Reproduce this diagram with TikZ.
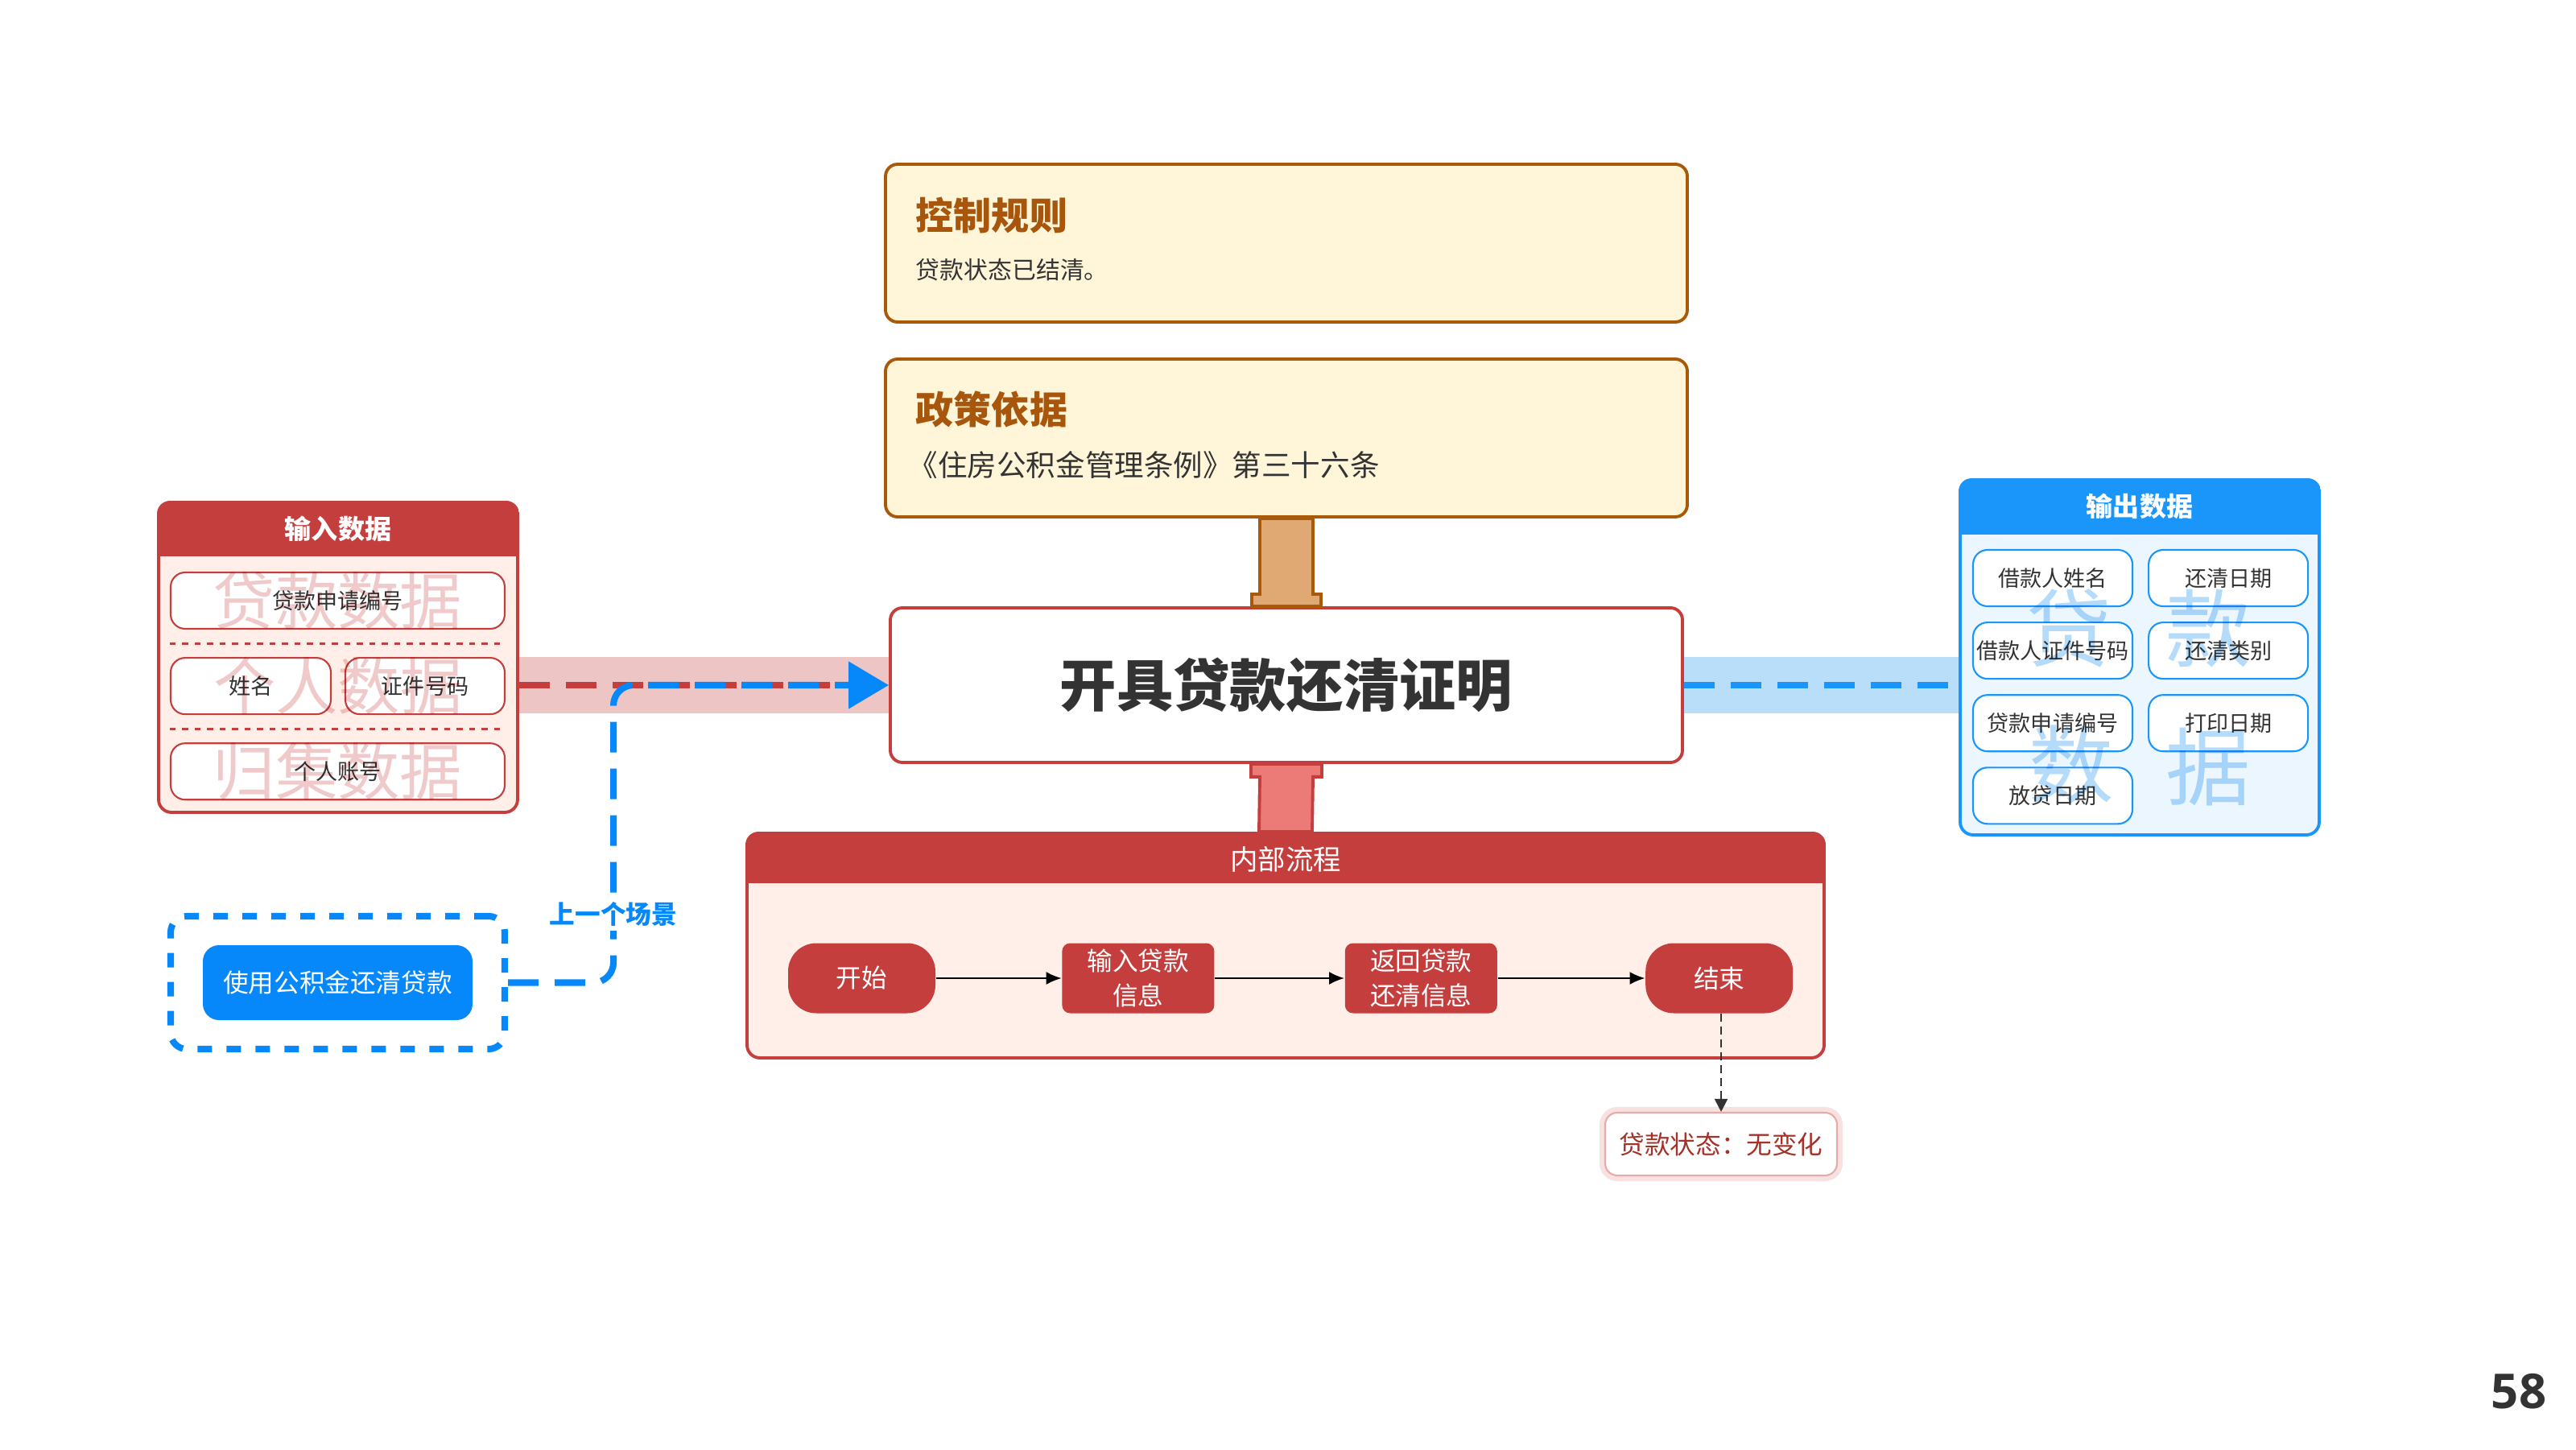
\documentclass[tikz,border=0pt]{standalone}
\usepackage{fontspec}
\setmainfont{Noto Sans CJK SC}
\newfontfamily\numfont{Open Sans}
\usetikzlibrary{calc,positioning,arrows.meta}

\definecolor{bordred}{HTML}{C43E3E}
\definecolor{peach}{HTML}{FFEFE8}
\definecolor{bandred}{HTML}{EDC5C5}
\definecolor{markred}{HTML}{F0CACA}
\definecolor{tanfill}{HTML}{E0A872}
\definecolor{tanline}{HTML}{A85A0A}
\definecolor{cream}{HTML}{FFF5D8}
\definecolor{titlebrown}{HTML}{A8560C}
\definecolor{stubred}{HTML}{EC7A77}
\definecolor{sceneblue}{HTML}{0788FA}
\definecolor{outblue}{HTML}{1A96FA}
\definecolor{bandblue}{HTML}{B8DEFA}
\definecolor{paleblue}{HTML}{EBF6FF}
\definecolor{markblue}{HTML}{B5DBFA}
\definecolor{textgray}{HTML}{333333}
\definecolor{notered}{HTML}{A33228}
\definecolor{glowred}{HTML}{E8AAAA}

\begin{document}
\begin{tikzpicture}[
  redframe/.style={draw=bordred, line width=1.1pt, fill=peach, rounded corners=1.6mm},
  redcell/.style={draw=bordred, line width=0.6pt, fill=white, rounded corners=1.8mm, minimum height=0.7cm, inner sep=0.5pt, text=textgray, font=\fontsize{7.7pt}{9pt}\selectfont},
  bluecell/.style={draw=outblue, line width=0.6pt, fill=white, rounded corners=1.8mm, minimum width=1.98cm, minimum height=0.7cm, inner sep=0.5pt, text=textgray, font=\fontsize{7.7pt}{9pt}\selectfont},
  rulebox/.style={draw=tanline, line width=1.1pt, fill=cream, rounded corners=1.5mm, minimum width=9.96cm, minimum height=1.96cm},
  ruletitle/.style={anchor=west, inner sep=0pt, text=titlebrown, font=\fontsize{13.4pt}{16pt}\selectfont\bfseries},
  rulebody/.style={anchor=west, inner sep=0pt, text=textgray},
  flowend/.style={fill=bordred, text=white, rounded corners=3.5mm, minimum width=1.83cm, minimum height=0.87cm, font=\fontsize{9pt}{11pt}\selectfont},
  flowstep/.style={fill=bordred, text=white, rounded corners=1mm, minimum width=1.89cm, minimum height=0.87cm, inner sep=1pt, align=center, font=\fontsize{9pt}{12pt}\selectfont},
  hdrtext/.style={text=white, font=\fontsize{9.4pt}{11pt}\selectfont\bfseries},
  wmark/.style={blend mode=multiply, inner sep=0pt},
  thickdash/.style={line width=2.3pt, dash pattern=on 3.8mm off 2mm},
]
  \useasboundingbox (0,0) rectangle (32,18);

  % rules
  \node[rulebox](rule) at (15.98,14.98){};
  \node[ruletitle](ruletitle) at ($(rule.west)+(0.39,0.35)$){控制规则};
  \node[rulebody, font=\fontsize{8.5pt}{10pt}\selectfont](rulebody) at ($(rule.west)+(0.39,-0.33)$){贷款状态已结清。};
  \node[rulebox](policy) at (15.98,12.56){};
  \node[ruletitle](policytitle) at ($(policy.west)+(0.39,0.36)$){政策依据};
  \node[rulebody, font=\fontsize{10.4pt}{12pt}\selectfont](policybody) at ($(policy.west)+(0.30,-0.34)$){《住房公积金管理条例》第三十六条};

  % bands
  \node[redframe, minimum width=4.46cm, minimum height=3.85cm](inbox) at (4.20,9.835){};
  \node[draw=outblue, line width=1.1pt, fill=paleblue, rounded corners=1.6mm, minimum width=4.46cm, minimum height=4.41cm](outbox) at (26.58,9.835){};
  \node[draw=bordred, line width=1.1pt, fill=white, rounded corners=1.5mm, minimum width=9.84cm, minimum height=1.92cm, text=textgray, font=\fontsize{20pt}{24pt}\selectfont\bfseries](task) at (15.98,9.49){开具贷款还清证明};
  \draw[bandred, line width=0.7cm] (task.west -| inbox.east) -- (task.west);
  \draw[bandblue, line width=0.7cm] (task.east) -- (task.east -| outbox.west);

  % input data
  \begin{scope}
    \clip[rounded corners=1.6mm] (inbox.south west) rectangle (inbox.north east);
    \fill[bordred] (inbox.north west) rectangle ([yshift=-6.9mm]inbox.north east);
  \end{scope}
  \node[hdrtext](intitle) at ($(inbox.north)+(0,-0.345)$){输入数据};
  \node[redcell, minimum width=4.15cm](loanno) at (4.195,10.54){贷款申请编号};
  \node[redcell, minimum width=1.99cm, below right=0.34cm and 0cm of loanno.south west](name){姓名};
  \node[redcell, minimum width=1.98cm, below left=0.34cm and 0cm of loanno.south east](idno){证件号码};
  \node[redcell, minimum width=4.15cm, below right=0.34cm and 0cm of name.south west](acct){个人账号};
  \draw[bordred, line width=0.85pt, dash pattern=on 0.75mm off 0.8mm] ($(loanno.south west)!0.5!(name.north west)$) -- ($(loanno.south east)!0.5!(idno.north east)$);
  \draw[bordred, line width=0.85pt, dash pattern=on 0.75mm off 0.8mm] ($(name.south west)!0.5!(acct.north west)$) -- ($(idno.south east)!0.5!(acct.north east)$);
  \node[wmark, text=markred, font=\fontsize{22pt}{24pt}\selectfont](wm1) at (loanno){贷款数据};
  \node[wmark, text=markred, font=\fontsize{22pt}{24pt}\selectfont](wm2) at ($(name)!0.5!(idno)$){个人数据};
  \node[wmark, text=markred, font=\fontsize{22pt}{24pt}\selectfont](wm3) at (acct){归集数据};

  % output data
  \begin{scope}
    \clip[rounded corners=1.6mm] (outbox.south west) rectangle (outbox.north east);
    \fill[outblue] (outbox.north west) rectangle ([yshift=-7mm]outbox.north east);
  \end{scope}
  \node[hdrtext](outtitle) at ($(outbox.north)+(0,-0.35)$){输出数据};
  \node[bluecell](o1) at (25.50,10.82){借款人姓名};
  \node[bluecell, right=0.18cm of o1](o2){还清日期};
  \node[bluecell, below=0.18cm of o1](o3){借款人证件号码};
  \node[bluecell, right=0.18cm of o3](o4){还清类别};
  \node[bluecell, below=0.18cm of o3](o5){贷款申请编号};
  \node[bluecell, right=0.18cm of o5](o6){打印日期};
  \node[bluecell, below=0.18cm of o5](o7){放贷日期};
  \node[wmark, text=markblue, font=\fontsize{30pt}{32pt}\selectfont](wb1) at (25.70,10.20){贷};
  \node[wmark, text=markblue, font=\fontsize{30pt}{32pt}\selectfont](wb2) at (27.43,10.20){款};
  \node[wmark, text=markblue, font=\fontsize{30pt}{32pt}\selectfont](wb3) at (25.73,8.50){数};
  \node[wmark, text=markblue, font=\fontsize{30pt}{32pt}\selectfont](wb4) at (27.43,8.47){据};

  % internal flow
  \node[redframe, minimum width=13.38cm, minimum height=2.79cm](inner) at (15.97,6.255){};
  \begin{scope}
    \clip[rounded corners=1.6mm] (inner.south west) rectangle (inner.north east);
    \fill[bordred] (inner.north west) rectangle ([yshift=-6.4mm]inner.north east);
  \end{scope}
  \node[hdrtext, font=\fontsize{9.8pt}{11pt}\selectfont](innertitle) at ($(inner.north)+(0,-0.34)$){内部流程};
  \node[flowend](start) at (10.705,5.85){开始};
  \node[flowstep, right=1.56cm of start](inp){输入贷款\\信息};
  \node[flowstep, right=1.61cm of inp](ret){返回贷款\\还清信息};
  \node[flowend, right=1.83cm of ret](finish){结束};
  \path[-{Latex[length=1.9mm,width=1.6mm]}, line width=0.7pt]
  (start) edge (inp)
  (inp) edge (ret)
  (ret) edge (finish);

  \node[draw=glowred, line width=0.6pt, fill=white, rounded corners=1.5mm, minimum width=2.88cm, minimum height=0.78cm, text=notered, font=\fontsize{9pt}{11pt}\selectfont, preaction={draw=glowred, line width=4pt, opacity=0.35}](note) at (21.38,3.79){贷款状态：无变化};
  \draw[textgray, line width=0.6pt, dash pattern=on 1mm off 0.6mm, -{Triangle[length=1.6mm,width=1.6mm]}] (finish.south -| note.north) -- (note.north);

  % stubs
  \draw[tanline, fill=tanfill, line width=1.1pt] ($(policy.south)+(-0.33,0)$) -- ($(task.north)+(-0.33,0.15)$) -- ++(-0.10,0) -- ($(task.north)+(-0.43,0)$) -- ($(task.north)+(0.43,0)$) -- ++(0,0.15) -- ++(-0.10,0) -- ($(policy.south)+(0.33,0)$) -- cycle;
  \draw[bordred, fill=stubred, line width=1.1pt] ($(task.south)+(-0.44,0)$) -- ++(0,-0.16) -- ++(0.11,0) -- ($(inner.north)+(-0.33,0)$) -- ($(inner.north)+(0.33,0)$) -- ($(task.south)+(0.33,-0.16)$) -- ++(0.11,0) -- ($(task.south)+(0.44,0)$) -- cycle;

  % scene
  \node[draw=sceneblue, line width=2.3pt, dash pattern=on 1.8mm off 1.8mm, rounded corners=2mm, minimum width=4.15cm, minimum height=1.65cm](scenebox) at (4.195,5.795){};
  \node[fill=sceneblue, text=white, rounded corners=2mm, minimum width=3.35cm, minimum height=0.93cm, font=\fontsize{9pt}{11pt}\selectfont](scene) at (scenebox){使用公积金还清贷款};

  \draw[bordred, thickdash] (task.west -| inbox.east) -- (task.west);
  \draw[outblue, thickdash] (task.east) -- (task.east -| outbox.west);
  \draw[sceneblue, thickdash, rounded corners=2.5mm, -{Triangle[length=5mm,width=5.7mm]}] (scenebox.east) -- ++(1.31,0) |- node[pos=0.115, fill=white, inner sep=1.5pt, text=sceneblue, font=\fontsize{9pt}{11pt}\selectfont\bfseries](prevlabel){上一个场景} (task.west);

  \node[text=textgray, font=\numfont\fontsize{17pt}{20pt}\selectfont\bfseries](pageno) at (31.29,0.72){58};
\end{tikzpicture}
\end{document}
